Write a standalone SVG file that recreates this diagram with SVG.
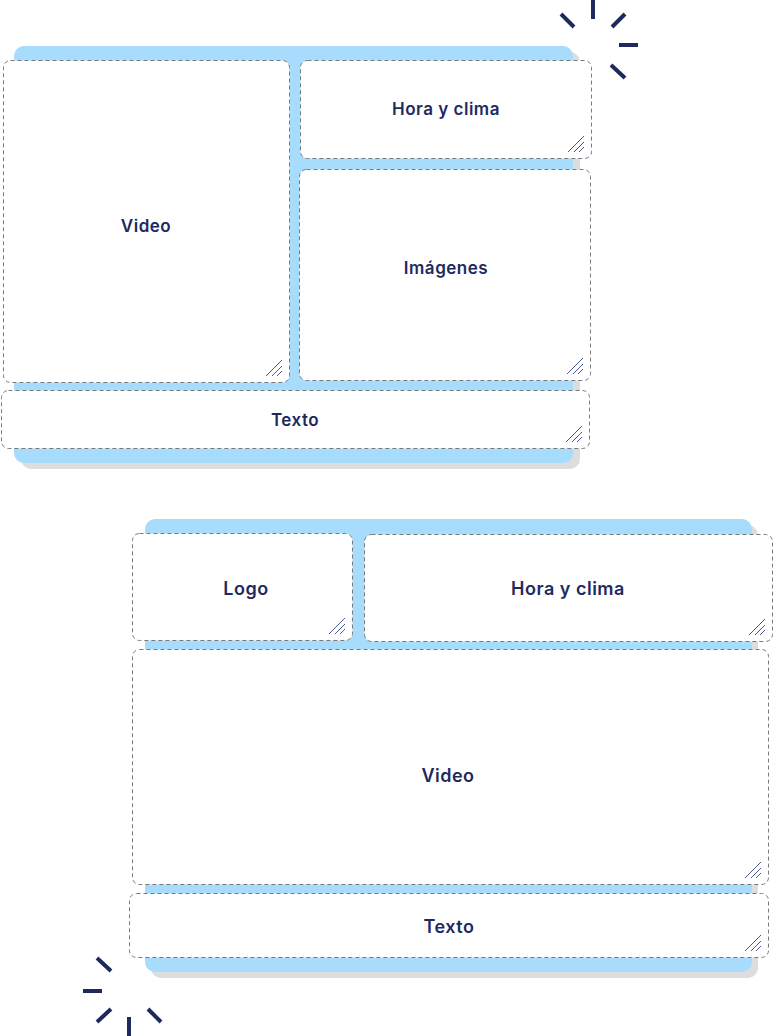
<svg xmlns="http://www.w3.org/2000/svg" width="774" height="1036" viewBox="0 0 774 1036">
<defs>
<style>
.bg{fill:#a7dcfd}
.sh{fill:#dddddd}
.box{fill:#ffffff;stroke:#7a7a7a;stroke-width:1;stroke-dasharray:4 3}
.lbl{font-family:Inter,"Noto Sans",sans-serif;font-weight:600;font-size:17px;letter-spacing:0.5px;fill:#1e2a5e;text-anchor:middle;dominant-baseline:central}
.big{font-size:18px}
.rs{stroke:#4a5894;stroke-width:1;fill:none}
.sp{stroke:#1e2a5e;stroke-width:4;fill:none}
</style>
<g id="resize">
<path class="rs" d="M-24,-7 L-8,-23 M-18,-7 L-8,-17 M-13,-7 L-8,-12"/>
</g>
</defs>
<rect width="774" height="1036" fill="#ffffff"/>

<g id="layout-1">
<rect class="sh" x="21" y="52" width="559" height="417" rx="10"/>
<rect class="bg" x="14" y="46" width="559" height="417" rx="10"/>
<g id="l1-video">
<rect class="box" x="3.5" y="60.5" width="286" height="322" rx="7"/>
<use href="#resize" x="290" y="383"/>
<text class="lbl" x="146" y="226">Video</text>
</g>
<g id="l1-hora">
<rect class="box" x="300.5" y="60.5" width="291" height="98" rx="7"/>
<use href="#resize" x="592" y="159"/>
<text class="lbl" x="446" y="109">Hora y clima</text>
</g>
<g id="l1-imagenes">
<rect class="box" x="299.5" y="169.5" width="291" height="211" rx="7"/>
<use href="#resize" x="591" y="381"/>
<text class="lbl" x="446" y="268">Imágenes</text>
</g>
<g id="l1-texto">
<rect class="box" x="1.5" y="390.5" width="588" height="58" rx="7"/>
<use href="#resize" x="590" y="449"/>
<text class="lbl" x="295" y="420">Texto</text>
</g>
</g>

<g id="layout-2">
<rect class="sh" x="151" y="525" width="607" height="453" rx="10"/>
<rect class="bg" x="145" y="519" width="607" height="453" rx="10"/>
<g id="l2-logo">
<rect class="box" x="132.5" y="533.5" width="220" height="107" rx="7"/>
<use href="#resize" x="353" y="641"/>
<text class="lbl big" x="246" y="588">Logo</text>
</g>
<g id="l2-hora">
<rect class="box" x="364.5" y="534.5" width="408" height="107" rx="7"/>
<use href="#resize" x="773" y="642"/>
<text class="lbl big" x="568" y="588">Hora y clima</text>
</g>
<g id="l2-video">
<rect class="box" x="132.5" y="649.5" width="636" height="235" rx="7"/>
<use href="#resize" x="769" y="885"/>
<text class="lbl big" x="448" y="775">Video</text>
</g>
<g id="l2-texto">
<rect class="box" x="129.5" y="893.5" width="639" height="64" rx="7"/>
<use href="#resize" x="769" y="958"/>
<text class="lbl big" x="449" y="926">Texto</text>
</g>
</g>

<g id="sparkle-top">
<path class="sp" d="M593,0 L593,19 M561,14 L574,27 M612,27 L625,14 M619,45 L638,45 M611,65 L625,78"/>
</g>
<g id="sparkle-bottom">
<path class="sp" d="M97,958 L111,971 M83,991 L102,991 M97,1022 L111,1009 M129,1017 L129,1036 M148,1009 L161,1022"/>
</g>
</svg>
